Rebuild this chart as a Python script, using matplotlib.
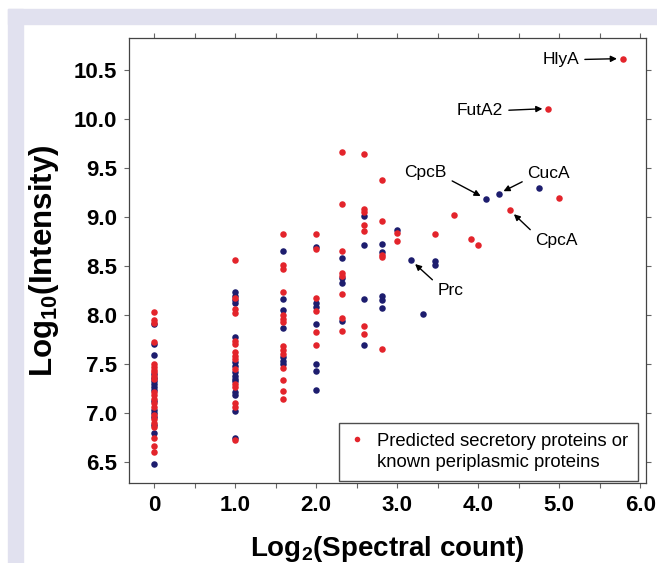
import matplotlib
matplotlib.use('Agg')
import matplotlib.pyplot as plt
from matplotlib.patches import Rectangle
from matplotlib.lines import Line2D
from matplotlib.ticker import MultipleLocator, FixedLocator

plt.rcParams['font.family'] = ['Liberation Sans', 'DejaVu Sans']
plt.rcParams['mathtext.fontset'] = 'custom'
plt.rcParams['mathtext.default'] = 'regular'

# log2(spectral count) columns and log10(intensity) values
x_levels = [0, 1.0, 1.585, 2.0, 2.322, 2.585, 2.807, 3.0]

red_cols = [
    [8.03, 7.95, 7.92, 7.73, 7.50, 7.47, 7.44, 7.42, 7.38, 7.35, 7.22, 7.18,
     7.14, 7.10, 7.06, 6.98, 6.94, 6.90, 6.86, 6.75, 6.66, 6.60],
    [8.56, 8.18, 8.06, 8.02, 7.74, 7.71, 7.62, 7.58, 7.55, 7.45, 7.30, 7.27,
     7.10, 7.06, 6.72],
    [8.83, 8.51, 8.47, 8.24, 8.00, 7.96, 7.93, 7.68, 7.64, 7.60, 7.46, 7.34,
     7.23, 7.14],
    [8.83, 8.68, 8.17, 8.04, 7.83, 7.70],
    [9.67, 9.13, 8.65, 8.43, 8.40, 8.22, 7.97, 7.84],
    [9.65, 9.08, 9.05, 8.92, 8.86, 7.89, 7.81],
    [9.38, 8.96, 8.61, 8.59, 7.65],
    [8.84, 8.76],
]
navy_cols = [
    [7.91, 7.71, 7.59, 7.40, 7.36, 7.33, 7.30, 7.27, 7.24, 7.12, 7.03, 7.00,
     6.96, 6.88, 6.80, 6.48],
    [8.24, 8.20, 8.15, 8.12, 7.78, 7.52, 7.48, 7.42, 7.38, 7.35, 7.33, 7.22,
     7.18, 7.02, 6.75],
    [8.65, 8.16, 8.05, 7.87, 7.57, 7.53, 7.50],
    [8.70, 8.12, 8.08, 7.91, 7.50, 7.43, 7.24],
    [8.58, 8.38, 8.33, 7.94],
    [9.01, 8.72, 8.16, 7.70],
    [8.73, 8.64, 8.20, 8.15, 8.07],
    [8.87],
]

red_extra_x = [3.46, 3.70, 3.91, 4.00, 4.39, 5.00, 4.86, 5.78]
red_extra_y = [8.83, 9.02, 8.78, 8.72, 9.07, 9.20, 10.11, 10.62]
navy_extra_x = [3.17, 3.32, 3.46, 3.46, 4.09, 4.25, 4.75]
navy_extra_y = [8.56, 8.01, 8.55, 8.51, 9.19, 9.24, 9.30]

# labelled proteins: name, point, text position, arrow start on text box
labels = ['HlyA', 'FutA2', 'CpcB', 'CucA', 'CpcA', 'Prc']
label_pts = [(5.78, 10.62), (4.86, 10.11), (4.09, 9.19), (4.25, 9.24),
             (4.39, 9.07), (3.17, 8.56)]
label_txt = [(5.247, 10.61), (4.309, 10.09), (3.352, 9.46), (4.87, 9.45),
             (4.963, 8.765), (3.654, 8.255)]
label_ha = ['right', 'right', 'center', 'center', 'center', 'center']
label_rel = [(1, 0.5), (1, 0.5), (1, 0.1), (0, 0.1), (0, 0.9), (0, 0.9)]

red = '#e3242b'
navy = '#1d1d6e'

red_x, red_y, navy_x, navy_y = [], [], [], []
for xv, ys in zip(x_levels, red_cols):
    red_x += [xv] * len(ys)
    red_y += ys
for xv, ys in zip(x_levels, navy_cols):
    navy_x += [xv] * len(ys)
    navy_y += ys
red_x += red_extra_x
red_y += red_extra_y
navy_x += navy_extra_x
navy_y += navy_extra_y

fig = plt.figure(figsize=(6.57, 5.63), dpi=100)
W, H = 657, 563
# lavender frame
fig.patches.append(Rectangle((8 / W, 1 - 24 / H), 1, 15 / H, transform=fig.transFigure,
                             color='#e1e1ef', zorder=0))
fig.patches.append(Rectangle((8 / W, 0), 15 / W, 1 - 9 / H, transform=fig.transFigure,
                             color='#e1e1ef', zorder=0))

ax = fig.add_axes([129 / W, 1 - 483 / H, 517 / W, 445 / H])
ax.scatter(navy_x, navy_y, s=22, color=navy, linewidths=0, zorder=3)
ax.scatter(red_x, red_y, s=22, color=red, linewidths=0, zorder=3)

ax.set_xlim(-0.31, 6.07)
ax.set_ylim(6.286, 10.83)
ax.xaxis.set_major_locator(FixedLocator([0, 1, 2, 3, 4, 5, 6]))
ax.set_xticklabels(['0', '1.0', '2.0', '3.0', '4.0', '5.0', '6.0'])
ax.xaxis.set_minor_locator(MultipleLocator(0.5))
ax.yaxis.set_major_locator(MultipleLocator(0.5))
ax.tick_params(which='both', direction='out', length=3.5, width=0.8, color='#666666',
               top=True, right=True, labelsize=16, pad=5)
for lab in ax.get_xticklabels() + ax.get_yticklabels():
    lab.set_fontweight('bold')
for sp in ax.spines.values():
    sp.set_color('#444444')
    sp.set_linewidth(0.9)

ax.set_xlabel('Log$_2$(Spectral count)', fontsize=20, fontweight='bold', labelpad=13)
ax.set_ylabel('Log$_{10}$(Intensity)', fontsize=22.5, fontweight='bold', labelpad=9)

for name, pt, tp, ha, rel in zip(labels, label_pts, label_txt, label_ha, label_rel):
    ax.annotate(name, xy=pt, xytext=tp, ha=ha, va='center', fontsize=12.5,
                arrowprops=dict(arrowstyle='-|>', color='k', lw=1, mutation_scale=9,
                                shrinkA=2, shrinkB=4, relpos=rel))

handles = [Line2D([], [], ls='none', marker='o', ms=4, color=red, mew=0),
           Line2D([], [], ls='none', marker='none')]
leg = ax.legend(handles, ['Predicted secretory proteins or', 'known periplasmic proteins'],
                loc='lower right', bbox_to_anchor=(0.985, 0.005), borderaxespad=0,
                fontsize=13.3, frameon=True, fancybox=False, edgecolor='#222222',
                handlelength=0.8, handletextpad=0.7, borderpad=0.55, labelspacing=0.2)
leg.get_frame().set_linewidth(1.0)

fig.savefig('out.png', dpi=100)
